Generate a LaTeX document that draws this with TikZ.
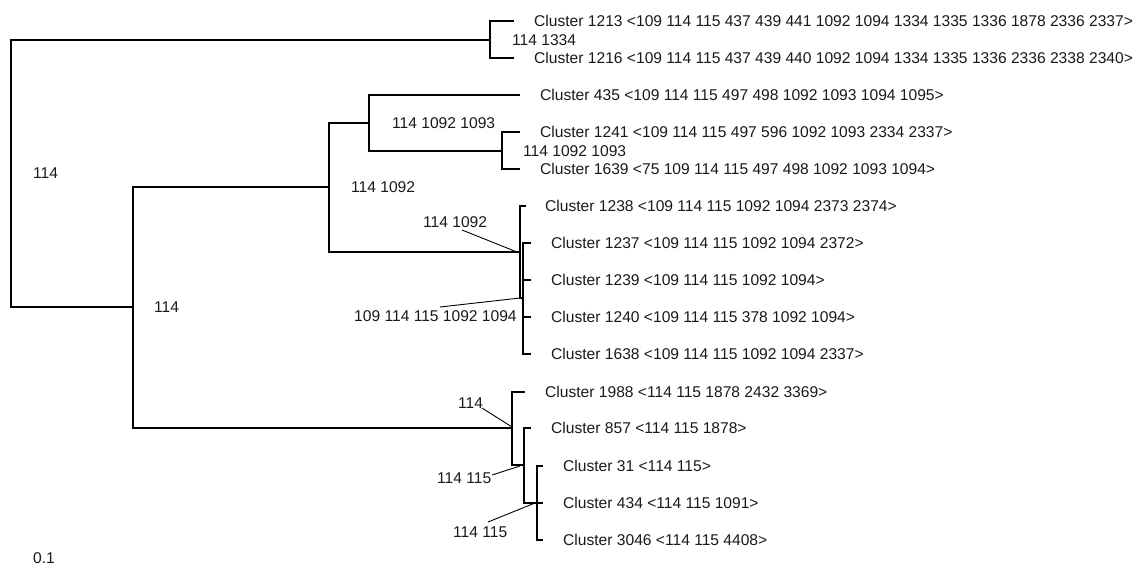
\documentclass[tikz,border=0pt]{standalone}
\usepackage{fontspec}
\setmainfont{Liberation Sans}
\begin{document}
\begin{tikzpicture}[x=1pt,y=-1pt,
  tree/.style={line width=2.2pt, line join=miter, line cap=butt},
  leader/.style={line width=0.9pt},
  lab/.style={anchor=west, inner sep=0pt, font=\fontsize{15.6}{18}\selectfont, text=black!90}]
\useasboundingbox (0,0) rectangle (1139,569);
% internal nodes
\coordinate (r) at (11,173);
\coordinate (A) at (490,40);
\coordinate (B) at (133,307);
\coordinate (C) at (329,187);
\coordinate (D) at (369,123);
\coordinate (F) at (502,151);
\coordinate (E) at (520,252);
\coordinate (G) at (523,298);
\coordinate (P) at (512,428);
\coordinate (Q) at (524,465);
\coordinate (R) at (537,503);
% leaf ends
\coordinate (l1213) at (514,21);
\coordinate (l1216) at (514,58);
\coordinate (l435) at (520,95);
\coordinate (l1241) at (520,132);
\coordinate (l1639) at (520,169);
\coordinate (l1238) at (526,206);
\coordinate (l1237) at (531,243);
\coordinate (l1239) at (531,280);
\coordinate (l1240) at (531,317);
\coordinate (l1638) at (531,354);
\coordinate (l1988) at (525,392);
\coordinate (l857) at (531,428);
\coordinate (l31) at (543,466);
\coordinate (l434) at (543,503);
\coordinate (l3046) at (543,540);
% tree
\draw[tree] (r) |- (A); \draw[tree] (r) |- (B);
\draw[tree] (A) |- (l1213); \draw[tree] (A) |- (l1216);
\draw[tree] (B) |- (C); \draw[tree] (B) |- (P);
\draw[tree] (C) |- (D); \draw[tree] (C) |- (E);
\draw[tree] (D) |- (l435); \draw[tree] (D) |- (F);
\draw[tree] (F) |- (l1241); \draw[tree] (F) |- (l1639);
\draw[tree] (E) |- (l1238); \draw[tree] (E) |- (G);
\draw[tree] (G) |- (l1237); \draw[tree] (G) |- (l1239);
\draw[tree] (G) |- (l1240); \draw[tree] (G) |- (l1638);
\draw[tree] (P) |- (l1988); \draw[tree] (P) |- (Q);
\draw[tree] (Q) |- (l857); \draw[tree] (Q) |- (R);
\draw[tree] (R) |- (l31); \draw[tree] (R) |- (l434); \draw[tree] (R) |- (l3046);
% leaf labels
\node[lab] (t1213) at (534,21) {Cluster 1213 <109 114 115 437 439 441 1092 1094 1334 1335 1336 1878 2336 2337>};
\node[lab] (t1216) at (534,58) {Cluster 1216 <109 114 115 437 439 440 1092 1094 1334 1335 1336 2336 2338 2340>};
\node[lab] (t435) at (540,95) {Cluster 435 <109 114 115 497 498 1092 1093 1094 1095>};
\node[lab] (t1241) at (540,132) {Cluster 1241 <109 114 115 497 596 1092 1093 2334 2337>};
\node[lab] (t1639) at (540,169) {Cluster 1639 <75 109 114 115 497 498 1092 1093 1094>};
\node[lab] (t1238) at (545,206) {Cluster 1238 <109 114 115 1092 1094 2373 2374>};
\node[lab] (t1237) at (551,243) {Cluster 1237 <109 114 115 1092 1094 2372>};
\node[lab] (t1239) at (551,280) {Cluster 1239 <109 114 115 1092 1094>};
\node[lab] (t1240) at (551,317) {Cluster 1240 <109 114 115 378 1092 1094>};
\node[lab] (t1638) at (551,354) {Cluster 1638 <109 114 115 1092 1094 2337>};
\node[lab] (t1988) at (545,392) {Cluster 1988 <114 115 1878 2432 3369>};
\node[lab] (t857) at (551,428) {Cluster 857 <114 115 1878>};
\node[lab] (t31) at (563,466) {Cluster 31 <114 115>};
\node[lab] (t434) at (563,503) {Cluster 434 <114 115 1091>};
\node[lab] (t3046) at (563,540) {Cluster 3046 <114 115 4408>};
% branch labels
\node[lab] (bA) at (512,40) {114 1334};
\node[lab] (br) at (33,173) {114};
\node[lab] (bB) at (154,307) {114};
\node[lab] (bC) at (351,187) {114 1092};
\node[lab] (bD) at (392,123) {114 1092 1093};
\node[lab] (bF) at (523,151) {114 1092 1093};
\node[lab] (bE) at (423,222) {114 1092};
\node[lab] (bG) at (354,316) {109 114 115 1092 1094};
\node[lab] (bP) at (458,403) {114};
\node[lab] (bQ) at (437,478) {114 115};
\node[lab] (bR) at (453,532) {114 115};
\node[lab] (scale) at (33,558) {0.1};
% leaders
\coordinate (eE) at (517,252); \coordinate (sE) at (462,230);
\coordinate (eG) at (520,298); \coordinate (sG) at (440,307);
\coordinate (eP) at (512,427); \coordinate (sP) at (482,408);
\coordinate (eQ) at (520,466); \coordinate (sQ) at (492,475);
\coordinate (eR) at (535,503); \coordinate (sR) at (488,522);
\draw[leader] (sE) -- (eE);
\draw[leader] (sG) -- (eG);
\draw[leader] (sP) -- (eP);
\draw[leader] (sQ) -- (eQ);
\draw[leader] (sR) -- (eR);
\end{tikzpicture}
\end{document}
